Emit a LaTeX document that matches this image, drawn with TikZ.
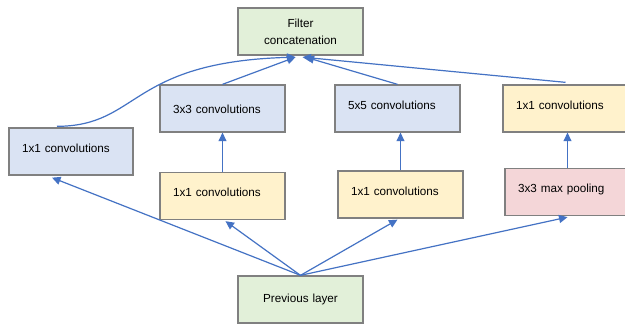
\documentclass[tikz,border=0pt]{standalone}
\usepackage{fontspec}
\setmainfont{Liberation Sans}
\usetikzlibrary{arrows.meta,calc}
\definecolor{bfill}{HTML}{DAE3F3}
\definecolor{yfill}{HTML}{FFF2CC}
\definecolor{pfill}{HTML}{F4D6D8}
\definecolor{gfill}{HTML}{E2F0D9}
\definecolor{bord}{HTML}{808080}
\definecolor{arr}{HTML}{4472C4}
\begin{document}
\begin{tikzpicture}[x=1pt,y=-1pt,
  box/.style={draw=bord, line width=1.3pt, minimum height=47pt, text width=99pt,
    inner xsep=13pt, inner ysep=0pt, align=left, text height=8pt, text depth=6pt,
    font=\fontsize{11.7}{14}\selectfont},
  cbox/.style={box, align=center, text height=, text depth=, font=\fontsize{11.7}{17}\selectfont},
  conn/.style={draw=arr, line width=1.2pt, -{Triangle[length=8.5pt,width=8pt]}}]
\useasboundingbox (0,0) rectangle (625,326);
\fill[white] (0,0) rectangle (625,326);
\clip (0,0) rectangle (625,326);
% nodes
\node[cbox, fill=gfill] (filt) at (300.5,31.5) {Filter\\concatenation};
\node[box, fill=bfill, text width=98pt, text depth=5pt] (A) at (71,151.5) {1x1 convolutions};
\node[box, fill=bfill, text height=11pt, text depth=0pt] (B) at (222.5,108.5) {3x3 convolutions};
\node[box, fill=bfill] (C) at (397.5,108.5) {5x5 convolutions};
\node[box, fill=yfill] (D) at (565.5,108.5) {1x1 convolutions};
\node[box, fill=yfill] (E) at (222.5,196) {1x1 convolutions};
\node[box, fill=yfill] (F) at (400.5,194.5) {1x1 convolutions};
\node[box, fill=pfill] (G) at (567.5,192) {3x3 max pooling};
\node[cbox, fill=gfill] (H) at (300.5,299.5) {Previous layer};
% from previous layer
\draw[conn] (H.north) -- ($(A.south)+(-19,2)$);
\draw[conn] (H.north) -- ($(E.south)+(3,1)$);
\draw[conn] (H.north) -- ($(F.south)+(-3,1)$);
\draw[conn] (H.north) -- ($(G.south)+(0,1)$);
% vertical
\draw[conn] (E.north) -- (E.north |- B.south);
\draw[conn] (F.north) -- (F.north |- C.south);
\draw[conn] (G.north) -- (G.north |- D.south);
% to filter concatenation
\draw[conn] ($(A.north)+(-14,-1)$) .. controls (140,126) and (128,62) .. ($(filt.south)+(-5,1.5)$);
\draw[conn] (B.north) -- ($(filt.south)+(-5,1.5)$);
\draw[conn] (C.north) -- ($(filt.south)+(5,1.5)$);
\draw[conn] ($(D.north)+(0,-2)$) -- ($(filt.south)+(2,1.5)$);
\end{tikzpicture}
\end{document}
